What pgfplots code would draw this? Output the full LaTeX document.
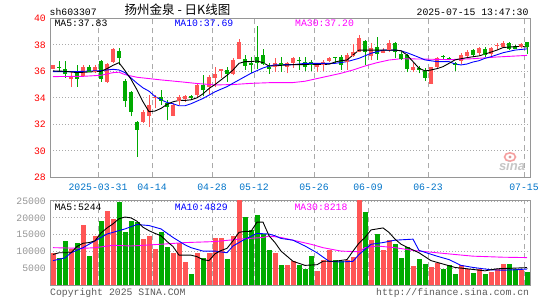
\documentclass[border=0pt]{standalone}
\usepackage{pgfplots}
\pgfplotsset{compat=1.18}
\usepackage{pgfplotstable}
\usepackage{fontspec}
\newfontfamily\mono{Liberation Mono}
\newfontfamily\cjk{Noto Sans CJK SC}
\newfontfamily\sans{Liberation Sans}
\definecolor{cred}{RGB}{255,85,85}
\definecolor{cgreen}{RGB}{0,170,0}
\definecolor{gridc}{RGB}{170,170,170}
\definecolor{framec}{RGB}{150,150,150}
\definecolor{datec}{RGB}{0,115,200}
\definecolor{volc}{RGB}{150,150,150}
\definecolor{mag}{RGB}{255,0,255}
\definecolor{txtgray}{RGB}{90,90,90}
\definecolor{logopink}{RGB}{245,160,160}

\pgfplotstableread{
i O H L C V
0 36.20 36.50 36.15 36.45 9650
3 35.45 35.97 34.80 35.60 10660
5 35.72 36.50 35.60 36.35 18030
7 35.97 36.48 35.85 36.35 14490
9 35.22 36.60 35.10 36.53 21970
10 36.73 37.73 36.60 37.66 19540
15 32.20 33.08 32.07 32.96 13690
16 32.70 34.21 31.82 33.46 14490
17 34.00 34.20 33.20 34.08 10860
20 32.70 33.58 32.60 33.46 9650
21 33.76 34.21 33.46 34.09 12470
22 33.96 34.21 33.71 34.14 6920
24 34.26 35.10 34.00 34.97 9650
26 34.84 35.75 34.30 35.60 9650
27 35.55 36.35 34.80 35.80 13990
28 36.05 36.20 35.50 36.15 13990
30 35.85 37.00 35.70 36.85 14490
31 37.00 38.40 36.90 38.20 25500
37 36.35 36.98 35.97 36.60 9650
39 36.35 36.70 35.85 36.60 5910
40 36.70 37.05 36.27 36.98 7120
44 36.35 36.60 35.92 36.53 4390
45 36.53 36.85 36.02 36.73 7630
46 36.85 37.11 36.73 36.98 10450
49 36.73 37.36 36.10 37.23 7420
50 37.18 38.04 37.10 37.48 8330
51 37.48 38.74 37.43 38.51 26000
53 37.18 38.11 36.85 37.73 13380
55 37.43 37.73 37.36 37.53 10450
56 37.61 38.36 37.43 38.11 13480
60 36.10 36.60 35.97 36.35 5610
63 35.09 36.35 35.04 36.30 5300
64 36.35 37.11 36.22 36.98 6620
68 36.85 37.36 36.53 37.23 5910
69 37.18 37.60 37.05 37.43 4900
71 37.43 37.81 37.23 37.73 4700
73 37.36 37.81 37.11 37.73 3890
74 37.95 38.11 37.61 38.00 4800
75 37.85 38.29 37.73 38.10 6210
78 37.90 38.11 37.73 38.05 4490
}\up

\pgfplotstableread{
i O H L C V
1 36.35 36.75 35.95 36.30 8130
2 36.20 36.75 35.50 35.80 13180
4 36.02 36.48 34.84 35.47 12470
6 36.35 36.48 35.97 36.02 8640
8 36.78 36.85 35.22 35.47 18940
11 37.53 37.73 36.48 37.03 24800
12 35.27 35.40 33.30 33.83 15700
13 34.40 34.50 32.60 32.96 18940
14 32.20 32.25 29.55 31.60 18740
18 34.09 34.60 33.46 33.83 15700
19 33.58 33.83 32.32 33.33 11460
23 34.10 34.20 33.90 34.05 3300
25 35.00 35.72 34.10 34.60 8130
29 36.10 36.35 35.20 35.80 7830
32 36.95 37.25 36.10 36.45 20250
33 36.60 37.10 35.90 36.55 16420
34 37.10 39.42 36.20 36.70 20760
35 37.25 37.70 36.45 36.60 15200
36 36.35 36.60 35.80 36.20 10450
38 36.65 37.10 35.97 36.55 5910
41 36.85 37.11 36.10 36.80 5910
42 36.73 37.11 36.00 36.35 4900
43 36.73 36.85 36.00 36.48 8640
47 37.08 37.11 36.60 37.03 7630
48 37.11 37.23 36.10 36.48 7320
52 38.29 38.36 36.50 37.53 21660
54 37.86 38.61 36.85 37.36 15300
57 38.11 38.24 36.98 37.48 12370
58 37.28 37.48 36.85 36.98 8130
59 37.23 37.28 35.92 36.22 11460
61 36.27 36.43 35.85 36.10 7830
62 36.02 36.22 35.27 35.52 6310
65 37.13 37.23 36.85 37.08 4800
66 36.98 37.10 36.85 36.95 5910
67 36.65 36.73 36.00 36.50 3480
70 37.61 37.66 37.05 37.28 3790
72 37.68 37.86 37.11 37.28 3480
76 38.10 38.20 37.60 37.75 6210
77 37.93 37.98 37.70 37.73 4900
79 38.19 38.24 37.28 37.85 3890
}\down

\newcommand{\lf}{\mono\fontsize{9.8}{10}\selectfont}

\begin{document}
\begin{tikzpicture}
\path[use as bounding box] (0pt,0pt) rectangle (545pt,300pt);

% ---------------- price panel
\begin{axis}[
  at={(50pt,122.7pt)}, anchor=south west, scale only axis,
  width=480pt, height=159pt,
  xmin=-0.5, xmax=79.5, ymin=28, ymax=40,
  axis line style={framec, line width=1pt},
  xtick={7.5,16.5,26.5,33.5,43.5,52.5,62.5,78.5},
  xticklabels={2025-03-31,04-14,04-28,05-12,05-26,06-09,06-23,07-15},
  ytick={28,30,32,34,36,38,40},
  yticklabels={28,30,32,34,36,38,40},
  major tick length=0pt,
  xmajorgrids, ymajorgrids,
  major x grid style={gridc, line width=1pt, dash pattern=on 5pt off 4pt},
  major y grid style={gridc, line width=0.8pt, dash pattern=on 1pt off 2pt},
  xticklabel style={font=\lf, text=datec, anchor=north, inner sep=0pt, yshift=-6pt},
  yticklabel style={font=\lf, text=red, anchor=east, inner sep=0pt, xshift=-4pt},
]
% wicks
\addplot[draw=none, mark=none, forget plot,
  error bars/.cd, y dir=plus, y explicit, error mark=none,
  error bar style={draw=cred, line width=1pt}]
  table[x=i, y=L, y error plus expr=\thisrow{H}-\thisrow{L}] {\up};
\addplot[draw=none, mark=none, forget plot,
  error bars/.cd, y dir=plus, y explicit, error mark=none,
  error bar style={draw=cgreen, line width=1pt}]
  table[x=i, y=L, y error plus expr=\thisrow{H}-\thisrow{L}] {\down};
% bodies
\addplot[draw=none, mark=-, mark size=2.4pt, mark options={draw=cred, line width=1pt}, forget plot,
  error bars/.cd, y dir=plus, y explicit, error mark=none,
  error bar style={draw=cred, line width=4.8pt}]
  table[x=i, y=O, y error plus expr=\thisrow{C}-\thisrow{O}] {\up};
\addplot[draw=none, mark=-, mark size=2.4pt, mark options={draw=cgreen, line width=1pt}, forget plot,
  error bars/.cd, y dir=plus, y explicit, error mark=none,
  error bar style={draw=cgreen, line width=4.8pt}]
  table[x=i, y=C, y error plus expr=\thisrow{O}-\thisrow{C}] {\down};
% MA30
\addplot[mag, line width=0.9pt, mark=none] coordinates {
(0,35.6) (5,35.62) (8,35.7) (10,35.9) (11,35.93) (12,35.75) (14,35.55) (16,35.45)
(18,35.35) (21,35.22) (24,35.08) (27,34.97) (30,35.0) (33,35.09) (36,35.14) (40,35.15)
(42,35.25) (44,35.45) (46,35.65) (48,35.85) (50,36.1) (52,36.4) (54,36.65) (56,36.85)
(58,36.95) (62,36.92) (66,36.88) (70,36.95) (74,37.08) (79,37.2)};
% MA10
\addplot[blue, line width=0.9pt, mark=none] coordinates {
(0,35.97) (4,35.98) (8,36.05) (10,36.15) (11,36.1) (12,35.9) (13,35.5) (14,35.1) (15,34.75)
(16,34.5) (17,34.1) (18,33.85) (19,33.65) (20,33.55) (21,33.4) (22,33.4) (23,33.55)
(24,33.75) (25,33.95) (26,34.2) (27,34.45) (28,34.65) (29,34.84) (30,35.1) (31,35.35)
(32,35.6) (33,35.85) (34,36.05) (35,36.25) (36,36.4) (37,36.48) (38,36.5) (40,36.5)
(42,36.6) (47,36.6) (49,36.73) (51,36.98) (53,37.36) (55,37.6) (57,37.6) (58,37.55)
(59,37.4) (60,37.23) (61,37.05) (62,36.86) (64,36.73) (66,36.73) (67,36.55) (68,36.48)
(69,36.55) (70,36.7) (71,36.8) (72,36.98) (73,37.1) (74,37.25) (75,37.4) (76,37.5)
(77,37.6) (78,37.65) (79,37.69)};
% MA5
\addplot[black, line width=0.9pt, mark=none] coordinates {
(0,36.03) (2,36.0) (4,35.9) (6,35.95) (8,36.0) (9,36.2) (10,36.45) (11,36.65)
(12,36.05) (13,35.4) (14,34.6) (15,33.7) (16,32.95) (17,33.0) (18,33.2) (19,33.5)
(20,33.7) (21,33.8) (22,33.8) (23,33.85) (24,34.0) (25,34.3) (26,34.7) (27,35.0)
(28,35.35) (29,35.7) (30,36.1) (31,36.6) (32,36.73) (33,36.73) (34,36.78) (35,36.65)
(36,36.4) (37,36.4) (38,36.45) (40,36.5) (46,36.53) (47,36.7) (48,36.8) (49,36.85)
(50,37.23) (51,37.6) (53,37.6) (57,37.6) (58,37.55) (59,37.23) (60,36.73) (61,36.23)
(62,36.03) (63,36.1) (64,36.2) (65,36.35) (66,36.6) (67,36.86) (68,36.95) (69,37.03)
(70,37.1) (71,37.16) (72,37.3) (73,37.45) (74,37.6) (75,37.79) (76,37.83) (77,37.86)
(78,37.88) (79,37.83)};
\end{axis}

% ---------------- volume panel
\begin{axis}[
  at={(50pt,14.7pt)}, anchor=south west, scale only axis,
  width=480pt, height=85.3pt,
  xmin=-0.5, xmax=79.5, ymin=0, ymax=25300,
  scaled y ticks=false,
  axis line style={framec, line width=1pt},
  xtick={7.5,16.5,26.5,33.5,43.5,52.5,62.5,78.5},
  xticklabels={},
  ytick={5000,10000,15000,20000,25000},
  yticklabels={5000,10000,15000,20000,25000},
  major tick length=0pt,
  xmajorgrids, ymajorgrids,
  major x grid style={gridc, line width=1pt, dash pattern=on 5pt off 4pt},
  major y grid style={gridc, line width=0.8pt, dash pattern=on 1pt off 2pt},
  yticklabel style={font=\lf, text=volc, anchor=east, inner sep=0pt, xshift=-4pt},
]
\addplot[ycomb, cred, line width=5pt, mark=none, forget plot] table[x=i, y=V] {\up};
\addplot[ycomb, cgreen, line width=5pt, mark=none, forget plot] table[x=i, y=V] {\down};
% MA30
\addplot[mag, line width=0.9pt, mark=none] coordinates {
(0,11160) (5,10960) (7,11160) (10,11870) (13,11660) (18,12170) (22,12670) (27,12970)
(31,13690) (35,14190) (36,14600) (38,14200) (40,13380) (43,12170) (45,11160) (48,10150)
(51,9950) (52,11160) (54,11660) (57,11160) (60,10350) (64,9650) (67,9140) (70,8640)
(75,8330) (79,8218)};
% MA10
\addplot[blue, line width=0.9pt, mark=none] coordinates {
(0,7320) (2,8130) (3,9650) (5,11160) (7,13180) (9,15200) (12,16720) (14,18030) (16,17730)
(18,16720) (20,14190) (22,12000) (23,11160) (25,10150) (27,10150) (29,9650) (30,11660)
(32,13690) (34,15400) (36,15200) (37,14700) (38,13890) (40,13380) (42,11660) (44,9650)
(46,7120) (48,6920) (50,7120) (51,9140) (53,12170) (55,12670) (57,13380) (60,13690)
(61,10350) (64,8640) (66,7630) (68,5910) (70,5300) (73,4600) (75,4490) (77,4600) (79,4829)};
% MA5
\addplot[black, line width=0.9pt, mark=none] coordinates {
(0,9140) (1,9650) (3,9650) (4,11500) (5,12470) (6,12670) (7,13180) (8,15500) (9,17000)
(10,18230) (11,19750) (12,20250) (13,20000) (14,19000) (15,17220) (16,16200) (17,15400)
(18,14690) (19,13000) (20,11500) (21,8940) (23,8940) (24,8500) (25,7600) (26,7320)
(27,9340) (28,10300) (29,10960) (30,13180) (31,15700) (32,16000) (33,16000) (34,18740)
(35,18740) (36,14690) (37,12670) (38,10150) (40,7120) (42,5910) (44,6110) (45,7120)
(47,7120) (49,7630) (50,10150) (51,12500) (52,14190) (53,16420) (55,17020) (56,15700)
(57,13690) (58,12200) (59,11300) (61,9650) (63,7320) (65,6310) (67,5300) (69,4900)
(72,4290) (74,4900) (77,5100) (79,5244)};
\end{axis}

% ---------------- texts
\node[anchor=base west, inner sep=0pt, font=\lf] at (49.5pt,284.3pt) {sh603307};
\node[anchor=base, inner sep=0pt, font=\cjk\fontsize{12.5}{13}\selectfont] at (177.5pt,285.3pt) {扬州金泉\ -\ 日K线图};
\node[anchor=base east, inner sep=0pt, font=\lf] at (528.6pt,284.3pt) {2025-07-15 13:47:30};

\node[anchor=base west, inner sep=0pt, font=\lf, text=black] at (54.3pt,273.4pt) {MA5:37.83};
\node[anchor=base west, inner sep=0pt, font=\lf, text=blue] at (174.3pt,273.4pt) {MA10:37.69};
\node[anchor=base west, inner sep=0pt, font=\lf, text=mag] at (295pt,273.4pt) {MA30:37.20};

\node[anchor=base west, inner sep=0pt, font=\lf, text=black] at (54.3pt,90pt) {MA5:5244};
\node[anchor=base west, inner sep=0pt, font=\lf, text=blue] at (174.7pt,90pt) {MA10:4829};
\node[anchor=base west, inner sep=0pt, font=\lf, text=mag] at (294.3pt,90pt) {MA30:8218};

\node[anchor=base west, inner sep=0pt, font=\lf, text=txtgray] at (50pt,4.4pt) {Copyright 2025 SINA.COM};
\node[anchor=base east, inner sep=0pt, font=\lf, text=txtgray] at (529.3pt,4.4pt) {http://finance.sina.com.cn};

% sina watermark
\draw[logopink, line width=1.6pt] (510pt,143pt) ellipse (5.5pt and 4.2pt);
\fill[logopink!80!gray] (510pt,143pt) circle (1.6pt);
\node[inner sep=0pt, font=\sans\bfseries\itshape\fontsize{13}{13}\selectfont, text=gray!45] at (512pt,134pt) {sina};
\end{tikzpicture}
\end{document}
